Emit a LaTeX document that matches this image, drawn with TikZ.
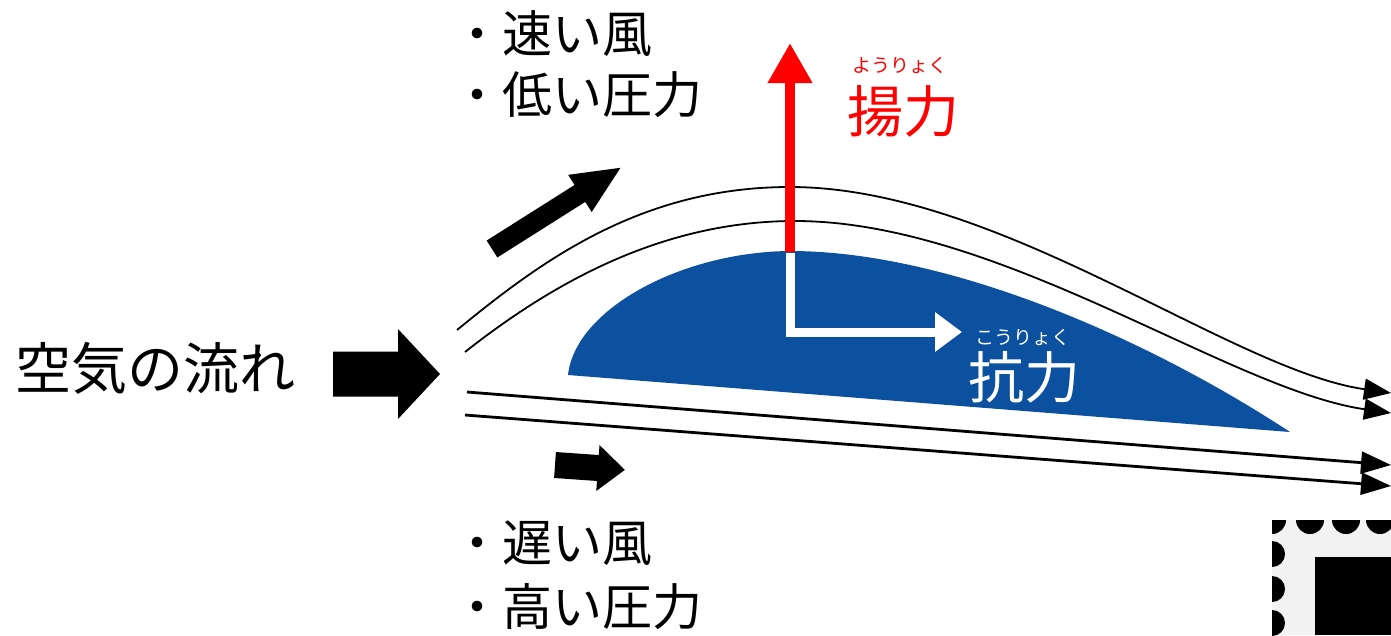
\documentclass[tikz,border=0pt]{standalone}
\usepackage{fontspec}
\newfontfamily\jpfont{Noto Sans CJK JP}
\usetikzlibrary{arrows.meta}
\definecolor{wingblue}{RGB}{12,80,160}
\definecolor{stampgray}{RGB}{242,242,242}
\newcommand{\blockarrow}[6]{\fill[shift={(#1)},rotate=#2] (0,#3)--(#4,#3)--(#4,#5)--(#6,0)--(#4,-#5)--(#4,-#3)--(0,-#3)--cycle;}
\tikzset{
  jptext/.style={inner sep=0pt, anchor=west, font=\jpfont\fontsize{50}{60}\selectfont},
  bigtext/.style={inner sep=0pt, font=\jpfont\fontsize{56}{66}\selectfont},
  ruby/.style={inner sep=0pt, font=\jpfont\fontsize{19}{22}\selectfont},
  stream/.style={line width=1.8pt, -{Triangle[length=27pt,width=21pt]}},
  flatstream/.style={line width=2.8pt, -{Triangle[length=30pt,width=22pt]}}
}

\begin{document}
\begin{tikzpicture}[x=1pt,y=-1pt]
\useasboundingbox (0,0) rectangle (1391,635);
\node[jptext] (fast) at (452,34) {・速い風};
\node[jptext] (lowp) at (452,95) {・低い圧力};
\node[jptext] (slow) at (452,543) {・遅い風};
\node[jptext] (highp) at (452,607) {・高い圧力};
\node[bigtext, anchor=west] (air) at (15,368) {空気の流れ};
\blockarrow{333,374}{0}{22.5}{65}{45}{107}
\blockarrow{492,249}{32.3}{10}{104}{22}{152}
\blockarrow{555,465}{-4}{13}{43}{23}{70}
% streamlines over and under the wing
\draw[stream] (457,330) .. controls (540,262) and (640,187) .. (790,187)
  .. controls (1000,187) and (1230,370) .. (1391,393);
\draw[stream] (465,352) .. controls (550,285) and (660,221) .. (795,221)
  .. controls (1000,221) and (1230,390) .. (1391,413);
\coordinate (under1) at (467,392);
\coordinate (under2) at (465,415);
\coordinate (out1) at (1391,465);
\coordinate (out2) at (1391,486);
\draw[flatstream] (under1) -- (out1);
\draw[flatstream] (under2) -- (out2);
% wing
\fill[wingblue] (568,375) .. controls (575,310) and (680,252) .. (790,251)
  .. controls (950,251) and (1150,340) .. (1290,432) -- cycle;
\coordinate (top) at (790,252);
\coordinate (up) at (790,43);
\coordinate (corner) at (790,332);
\coordinate (back) at (962,332);
\draw[red, line width=10pt, -{Triangle[length=40pt,width=42pt]}] (top) -- (up);
\draw[white, line width=9pt, line join=miter, -{Triangle[length=27pt,width=38pt]}] ([yshift=-1pt]top) -- (corner) -- (back);
\node[bigtext, red] (lift) at (903,111) {揚力};
\node[ruby, red] (liftruby) at (900,65) {ようりょく};
\node[bigtext, white] (drag) at (1024,377) {抗力};
\node[ruby, white] (dragruby) at (1023,337) {こうりょく};
% stamp in the corner
\begin{scope}
\clip (1272,520) rectangle (1391,635);
\fill[stampgray] (1272,520) rectangle (1391,635);
\foreach \x in {1272,1310,1346,1380} \fill (\x,520) circle (14);
\foreach \y in {554,589,623} \fill (1272,\y) circle (13);
\fill (1315,557) rectangle (1391,635);
\end{scope}
\end{tikzpicture}
\end{document}
